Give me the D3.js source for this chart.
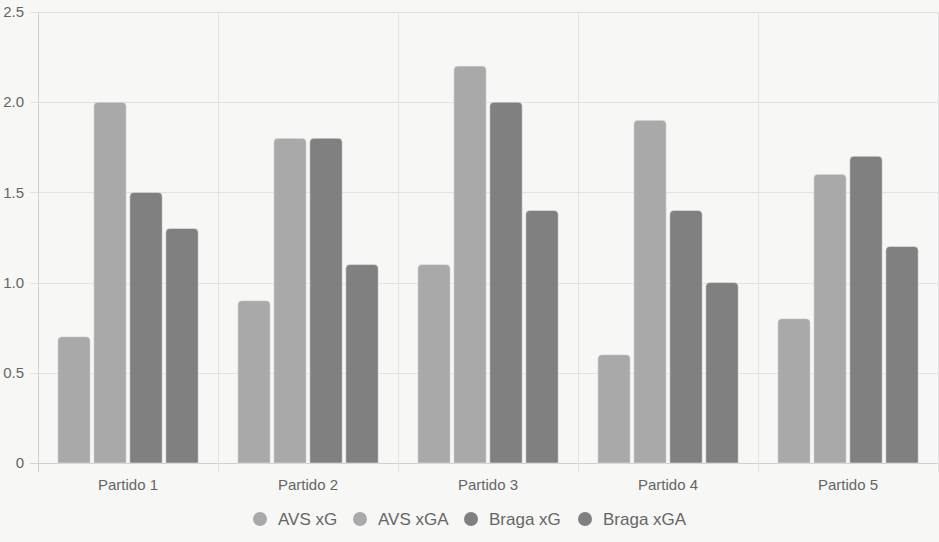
<!DOCTYPE html>
<html>
<head>
<meta charset="utf-8">
<script src="https://cdn.jsdelivr.net/npm/d3@7"></script>
<style>
  html, body { margin: 0; padding: 0; background: #f7f7f5; }
  svg { display: block; font-family: "Liberation Sans", Arial, sans-serif; }
</style>
</head>
<body>
<div id="chart"></div>
<script>
// chart data
var partidos = ["Partido 1", "Partido 2", "Partido 3", "Partido 4", "Partido 5"];
var seriesNames = ["AVS xG", "AVS xGA", "Braga xG", "Braga xGA"];
var avsXG = [0.7, 0.9, 1.1, 0.6, 0.8];
var avsXGA = [2.0, 1.8, 2.2, 1.9, 1.6];
var bragaXG = [1.5, 1.8, 2.0, 1.4, 1.7];
var bragaXGA = [1.3, 1.1, 1.4, 1.0, 1.2];
var yTicks = [0, 0.5, 1.0, 1.5, 2.0, 2.5];
var seriesColors = ["#a9a9a9", "#a9a9a9", "#808080", "#808080"];

var width = 939, height = 542;
var plotLeft = 38, plotRight = 938, plotTop = 12, plotBottom = 463;

var svg = d3.select("#chart").append("svg")
  .attr("width", width)
  .attr("height", height);

var allSeries = [avsXG, avsXGA, bragaXG, bragaXGA];

var x = d3.scaleBand()
  .domain(partidos)
  .range([plotLeft, plotRight])
  .paddingInner(0).paddingOuter(0);

// categoryPercentage 0.8, barPercentage 0.9 like chart.js
var x1 = d3.scaleBand()
  .domain(seriesNames)
  .range([x.bandwidth() * 0.1, x.bandwidth() * 0.9]);

var y = d3.scaleLinear()
  .domain([0, 2.5])
  .range([plotBottom, plotTop]);

// horizontal grid
svg.append("g").selectAll("line")
  .data(yTicks)
  .enter().append("line")
  .attr("x1", plotLeft - 8).attr("x2", plotRight)
  .attr("y1", function (d) { return Math.round(y(d)) + 0.5; })
  .attr("y2", function (d) { return Math.round(y(d)) + 0.5; })
  .attr("stroke", function (d) { return d === 0 ? "#d0d0d0" : "#e2e2e2"; })
  .attr("stroke-width", 1);

// vertical grid
var xLines = partidos.map(function (p) { return x(p); }).concat([plotRight]);
svg.append("g").selectAll("line")
  .data(xLines)
  .enter().append("line")
  .attr("x1", function (d) { return Math.round(d) + 0.5; })
  .attr("x2", function (d) { return Math.round(d) + 0.5; })
  .attr("y1", plotTop).attr("y2", plotBottom + 9)
  .attr("stroke", function (d, i) { return i === 0 ? "#d0d0d0" : "#e2e2e2"; })
  .attr("stroke-width", 1);

// y tick labels
svg.append("g").selectAll("text")
  .data(yTicks)
  .enter().append("text")
  .attr("x", plotLeft - 14)
  .attr("y", function (d) { return y(d); })
  .attr("dy", "0.35em")
  .attr("text-anchor", "end")
  .attr("fill", "#666")
  .style("font-size", "15px")
  .text(function (d) { return d === 0 ? "0" : d.toFixed(1); });

// x tick labels
svg.append("g").selectAll("text")
  .data(partidos)
  .enter().append("text")
  .attr("x", function (d) { return x(d) + x.bandwidth() / 2; })
  .attr("y", plotBottom + 22)
  .attr("dy", "0.35em")
  .attr("text-anchor", "middle")
  .attr("fill", "#666")
  .style("font-size", "15px")
  .text(function (d) { return d; });

// bars with rounded top corners
function barPath(x0, w, yTop, yBot, r) {
  r = Math.min(r, w / 2, yBot - yTop);
  return "M" + x0 + "," + yBot +
    "V" + (yTop + r) +
    "Q" + x0 + "," + yTop + " " + (x0 + r) + "," + yTop +
    "H" + (x0 + w - r) +
    "Q" + (x0 + w) + "," + yTop + " " + (x0 + w) + "," + (yTop + r) +
    "V" + yBot + "Z";
}

var barData = [];
partidos.forEach(function (p, i) {
  seriesNames.forEach(function (s, j) {
    barData.push({ partido: p, serie: s, value: allSeries[j][i], color: seriesColors[j] });
  });
});

var barW = x1.bandwidth() * 0.9;
svg.append("g").selectAll("path")
  .data(barData)
  .enter().append("path")
  .attr("d", function (d) {
    var bx = x(d.partido) + x1(d.serie) + (x1.bandwidth() - barW) / 2;
    return barPath(bx, barW, y(d.value), y(0), 4);
  })
  .attr("fill", function (d) { return d.color; })
  .attr("stroke", "#f2f2f2")
  .attr("stroke-opacity", 0.5)
  .attr("stroke-width", 1);

// legend
var legendX = [260, 360, 471, 585];
var legend = svg.append("g").selectAll("g")
  .data(seriesNames)
  .enter().append("g")
  .attr("transform", function (d, i) { return "translate(" + legendX[i] + ",519)"; });

legend.append("circle")
  .attr("r", 7)
  .attr("fill", function (d, i) { return seriesColors[i]; });

legend.append("text")
  .attr("x", 18)
  .attr("dy", "0.35em")
  .attr("fill", "#666")
  .style("font-size", "17px")
  .text(function (d) { return d; });
</script>
</body>
</html>
